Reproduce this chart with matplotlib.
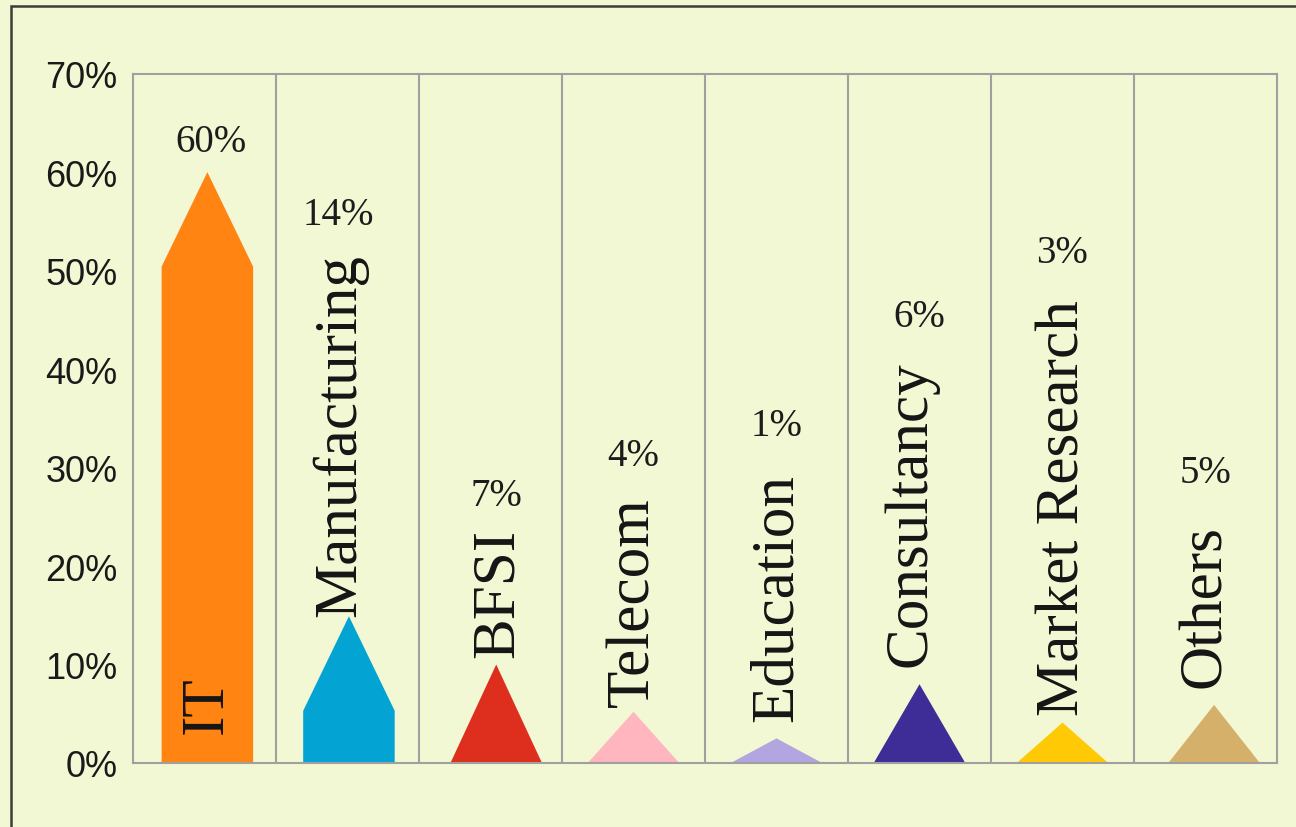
import matplotlib.pyplot as plt
from matplotlib.patches import Rectangle

# data
sectors = ['IT', 'Manufacturing', 'BFSI', 'Telecom', 'Education',
           'Consultancy', 'Market Research', 'Others']
shares = [60, 14, 7, 4, 1, 6, 3, 5]                        # printed labels (%)
tip = [60, 14.9, 10.0, 5.2, 2.5, 8.0, 4.1, 5.9]            # height of the arrow tip
shoulder = [50.4, 5.3, 0, 0, 0, 0, 0, 0]                   # height where the point starts
colors = ['#FF8412', '#03A3D3', '#DD2E1E', '#FFB6BE', '#B3A6E0',
          '#3E2C97', '#FFC905', '#D4B06A']

# layout (category units / data units)
shape_off = [0.02, 0.01, 0.04, 0, 0, 0, 0, 0.06]
name_off = [0.02, -0.05, 0.05, 0, 0, -0.06, 0.01, 0]
name_y = [3.0, 14.9, 10.8, 5.8, 4.3, 9.8, 4.9, 7.7]
val_off = [0.045, -0.065, 0.045, 0, 0, 0, 0, 0]
val_y = [62.1, 54.7, 26.2, 30.3, 33.3, 44.4, 50.9, 28.5]

bg = '#F2F8D3'
fig = plt.figure(figsize=(12.96, 8.28), dpi=100, facecolor=bg)
ax = fig.add_axes([133/1296, 64/828, 1144/1296, 689.3/828])
ax.set_facecolor(bg)

hw = 0.32
for i in range(len(sectors)):
    c = i + 0.5 + shape_off[i]
    if shoulder[i] > 0:
        xs = [c - hw, c - hw, c, c + hw, c + hw]
        ys = [0, shoulder[i], tip[i], shoulder[i], 0]
    else:
        xs = [c - hw, c, c + hw]
        ys = [0, tip[i], 0]
    ax.fill(xs, ys, color=colors[i], lw=0, zorder=2)
    ax.text(i + 0.5 + name_off[i], name_y[i], sectors[i], rotation=90,
            ha='center', va='bottom', fontsize=44, family='Liberation Serif',
            color='#151515', zorder=3)
    ax.text(i + 0.5 + val_off[i], val_y[i], f'{shares[i]}%', ha='center',
            va='baseline', fontsize=28, family='Liberation Serif',
            color='#1c1c1c', zorder=3)

for k in range(1, len(sectors)):
    ax.axvline(k, color='#A0A0A0', lw=1.5, zorder=1)

ax.set_xlim(0, len(sectors))
ax.set_ylim(0, 70)
ax.set_xticks([])
ax.set_yticks(range(0, 71, 10))
ax.set_yticklabels([f'{v}%' for v in range(0, 71, 10)], fontsize=26,
                   family='Liberation Sans', color='#1a1a1a')
ax.tick_params(axis='y', length=0, pad=11)
for s in ax.spines.values():
    s.set_color('#A0A0A0')
    s.set_linewidth(1.5)

# outer frame of the slide
fig.add_artist(Rectangle((11/1296, -0.05), 1.2, 1 - 7/828 + 0.05,
                         transform=fig.transFigure, fill=False,
                         edgecolor='#3B3E36', lw=1.8))

fig.savefig('out.png', dpi=100, facecolor=bg)
